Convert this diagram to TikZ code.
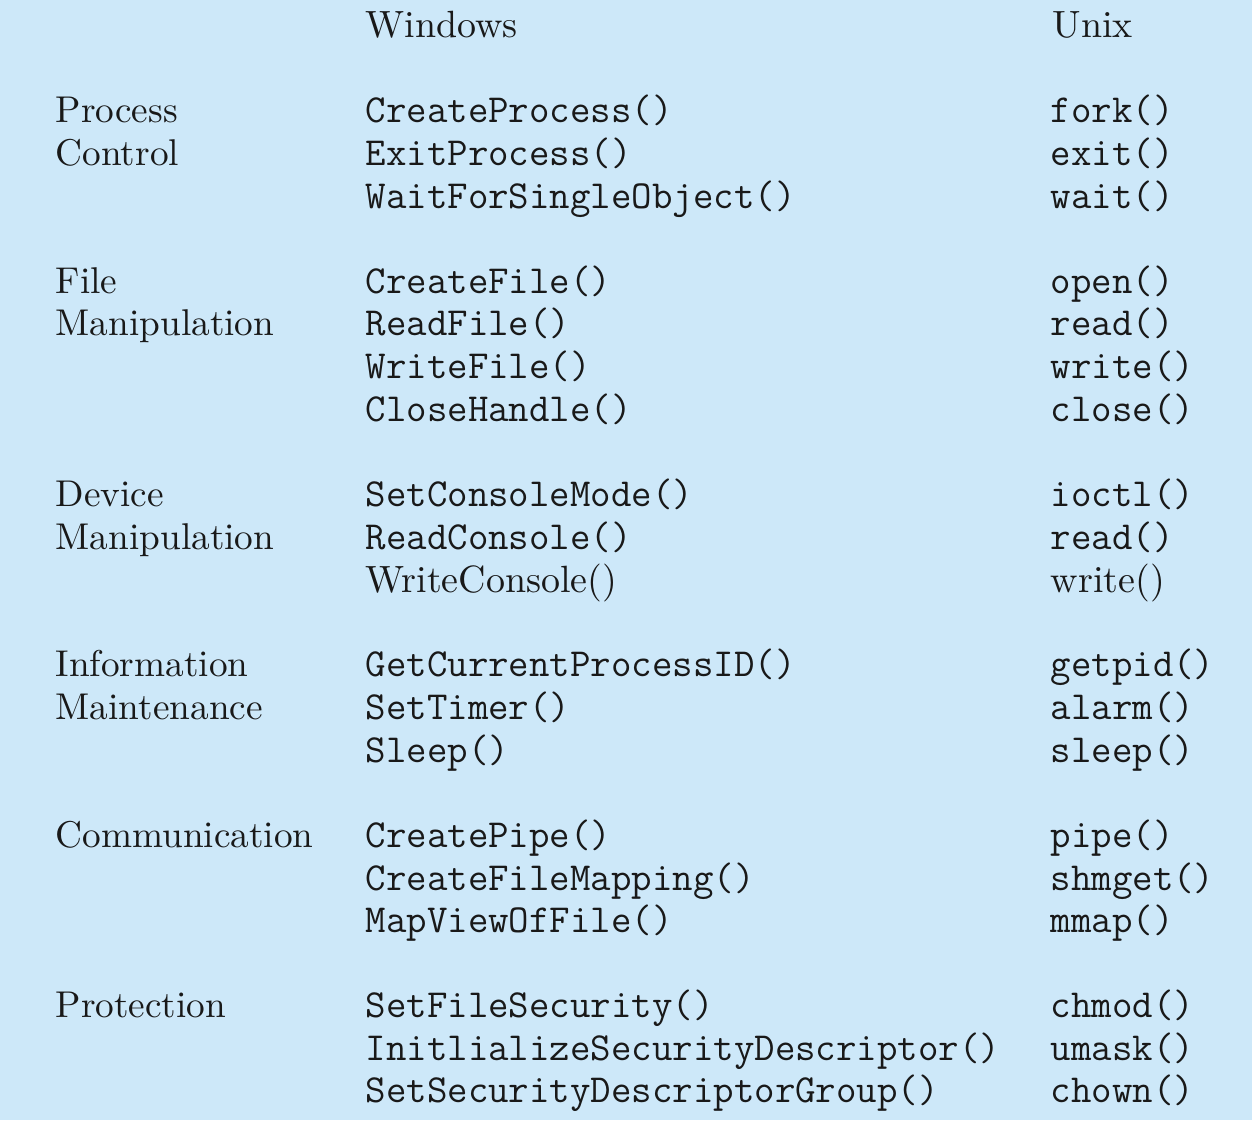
\documentclass[tikz,border=0pt]{standalone}
\definecolor{panelblue}{RGB}{205,232,249}
\definecolor{inkgray}{RGB}{25,25,25}

\tikzset{
  hdr/.style={anchor=base west, inner sep=0pt, text=inkgray, font=\fontsize{10.8pt}{12pt}\selectfont},
  cat/.style={anchor=base west, inner sep=0pt, text=inkgray, font=\fontsize{10.6pt}{12pt}\selectfont},
  call/.style={anchor=base west, inner sep=0pt, text=inkgray, font=\fontsize{11.3pt}{12pt}\selectfont\ttfamily},
  plaincall/.style={anchor=base west, inner sep=0pt, text=inkgray, font=\fontsize{10.8pt}{12pt}\selectfont}
}

\begin{document}
\begin{tikzpicture}[x=0.01cm, y=-0.01cm]

% Background
\fill[panelblue] (0,0) rectangle (1252,1120);
\useasboundingbox (0,0) rectangle (1252,1120);

% Column headings
\node[hdr] (winhead) at (365, 37) {Windows};
\node[hdr] (unixhead) at (1052, 37) {Unix};

% Process control
\node[cat] (procA) at (55, 122) {Process};
\node[cat] (procB) at (55, 165) {Control};
\node[call] (wproc1) at (365, 122) {CreateProcess()};
\node[call] (wproc2) at (365, 165) {ExitProcess()};
\node[call] (wproc3) at (365, 208) {WaitForSingleObject()};
\node[call] (uproc1) at (1050, 122) {fork()};
\node[call] (uproc2) at (1050, 165) {exit()};
\node[call] (uproc3) at (1050, 208) {wait()};

% File manipulation
\node[cat] (fileA) at (55, 293) {File};
\node[cat] (fileB) at (55, 335) {Manipulation};
\node[call] (wfile1) at (365, 293) {CreateFile()};
\node[call] (wfile2) at (365, 335) {ReadFile()};
\node[call] (wfile3) at (365, 378) {WriteFile()};
\node[call] (wfile4) at (365, 421) {CloseHandle()};
\node[call] (ufile1) at (1050, 293) {open()};
\node[call] (ufile2) at (1050, 335) {read()};
\node[call] (ufile3) at (1050, 378) {write()};
\node[call] (ufile4) at (1050, 421) {close()};

% Device manipulation
\node[cat] (devA) at (55, 506) {Device};
\node[cat] (devB) at (55, 549) {Manipulation};
\node[call] (wdev1) at (365, 506) {SetConsoleMode()};
\node[call] (wdev2) at (365, 549) {ReadConsole()};
\node[plaincall] (wdev3) at (365, 592) {WriteConsole()};
\node[call] (udev1) at (1050, 506) {ioctl()};
\node[call] (udev2) at (1050, 549) {read()};
\node[plaincall] (udev3) at (1050, 592) {write()};

% Information maintenance
\node[cat] (infoA) at (55, 676) {Information};
\node[cat] (infoB) at (55, 719) {Maintenance};
\node[call] (winfo1) at (365, 676) {GetCurrentProcessID()};
\node[call] (winfo2) at (365, 719) {SetTimer()};
\node[call] (winfo3) at (365, 762) {Sleep()};
\node[call] (uinfo1) at (1050, 676) {getpid()};
\node[call] (uinfo2) at (1050, 719) {alarm()};
\node[call] (uinfo3) at (1050, 762) {sleep()};

% Communication
\node[cat] (comm) at (55, 847) {Communication};
\node[call] (wcomm1) at (365, 847) {CreatePipe()};
\node[call] (wcomm2) at (365, 890) {CreateFileMapping()};
\node[call] (wcomm3) at (365, 932) {MapViewOfFile()};
\node[call] (ucomm1) at (1050, 847) {pipe()};
\node[call] (ucomm2) at (1050, 890) {shmget()};
\node[call] (ucomm3) at (1050, 932) {mmap()};

% Protection
\node[cat] (prot) at (55, 1017) {Protection};
\node[call] (wprot1) at (365, 1017) {SetFileSecurity()};
\node[call] (wprot2) at (365, 1060) {InitlializeSecurityDescriptor()};
\node[call] (wprot3) at (365, 1102) {SetSecurityDescriptorGroup()};
\node[call] (uprot1) at (1050, 1017) {chmod()};
\node[call] (uprot2) at (1050, 1060) {umask()};
\node[call] (uprot3) at (1050, 1102) {chown()};

\end{tikzpicture}
\end{document}
